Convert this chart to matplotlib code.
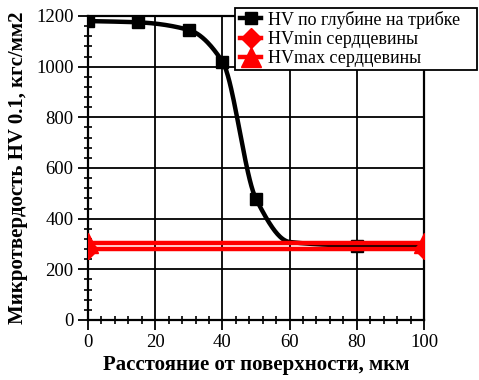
import numpy as np
import matplotlib
matplotlib.use("Agg")
import matplotlib.pyplot as plt
from matplotlib.ticker import MultipleLocator
from matplotlib.patches import Rectangle

# Data
depth = [0, 15, 30, 40, 50, 60, 80, 100]
hv = [1180, 1175, 1145, 1020, 478, 308, 294, 292]
marked = [0, 1, 2, 3, 4, 6]
core_x = [0, 100]
hv_min = [280, 280]
hv_max = [303, 303]

x_ticks = [0, 20, 40, 60, 80, 100]
y_ticks = [0, 200, 400, 600, 800, 1000, 1200]

label_main = "HV по глубине на трибке"
label_min = "HVmin сердцевины"
label_max = "HVmax сердцевины"
xlabel = "Расстояние от поверхности, мкм"
ylabel = "Микротвердость HV 0.1, кгс/мм2"


def pchip(x, y, xs):
    x = np.asarray(x, float); y = np.asarray(y, float)
    h = np.diff(x); d = np.diff(y) / h
    n = len(x); m = np.zeros(n)
    for k in range(1, n - 1):
        if d[k - 1] * d[k] > 0:
            w1 = 2 * h[k] + h[k - 1]; w2 = h[k] + 2 * h[k - 1]
            m[k] = (w1 + w2) / (w1 / d[k - 1] + w2 / d[k])
    m[0] = d[0]; m[-1] = d[-1]
    out = np.empty_like(xs)
    for i, xv in enumerate(xs):
        k = min(np.searchsorted(x, xv, side='right') - 1, n - 2)
        k = max(k, 0)
        t = (xv - x[k]) / h[k]
        h00 = 2 * t**3 - 3 * t**2 + 1; h10 = t**3 - 2 * t**2 + t
        h01 = -2 * t**3 + 3 * t**2; h11 = t**3 - t**2
        out[i] = h00 * y[k] + h10 * h[k] * m[k] + h01 * y[k + 1] + h11 * h[k] * m[k + 1]
    return out


plt.rcParams['font.family'] = ['Liberation Serif', 'DejaVu Serif']

fig = plt.figure(figsize=(4.79, 3.80), dpi=100)
ax = fig.add_axes([88 / 479, 1 - 320 / 380, (424 - 88) / 479, (320 - 16) / 380])

xs = np.linspace(depth[0], depth[-1], 400)
ax.plot(xs, pchip(depth, hv, xs), color='black', lw=3.2, zorder=3)
ax.plot(depth, hv, 's', color='black', ms=8, markevery=marked, zorder=3)
ax.plot([], [], color='black', lw=3.2, marker='s', ms=8, label=label_main)

ax.plot(core_x, hv_min, color='red', lw=3.2, marker='D', ms=10, zorder=4, label=label_min)
ax.plot(core_x, hv_max, color='red', lw=3.2, marker='^', ms=14, zorder=4, label=label_max)

ax.set_xlim(0, 100)
ax.set_ylim(0, 1200)
ax.set_xticks(x_ticks)
ax.set_yticks(y_ticks)
ax.xaxis.set_minor_locator(MultipleLocator(4))
ax.yaxis.set_minor_locator(MultipleLocator(40))
ax.grid(True, which='major', color='black', lw=1.3)
for s in ax.spines.values():
    s.set_linewidth(1.6)
ax.tick_params(which='major', direction='out', length=7, width=1.3, labelsize=13.5, colors='black')
ax.tick_params(which='minor', direction='inout', length=6, width=1.2)
ax.tick_params(axis='x', pad=3)

ax.set_xlabel(xlabel, fontsize=15, fontweight='bold', labelpad=3)
ax.set_ylabel(ylabel, fontsize=15, fontweight='bold', labelpad=6)

# legend frame (fixed box like the original)
frame = Rectangle((235 / 479, 1 - 70 / 380), (477 - 235) / 479, 62 / 380,
                  transform=fig.transFigure, facecolor='white', edgecolor='black',
                  lw=1.3, zorder=9)
fig.add_artist(frame)

handles, labels = ax.get_legend_handles_labels()
leg = fig.legend(handles, labels, loc='upper left',
                 bbox_to_anchor=(237 / 479, 1 - 8 / 380), bbox_transform=fig.transFigure,
                 fontsize=13, frameon=False, borderpad=0.15, labelspacing=0.12,
                 handlelength=1.2, handletextpad=0.35, borderaxespad=0)
leg.set_zorder(10)

fig.savefig('out.png', dpi=100)
